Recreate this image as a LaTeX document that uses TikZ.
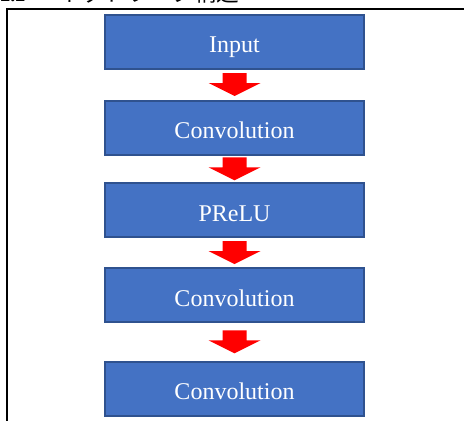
\documentclass[tikz,border=0pt]{standalone}
\usepackage{fontspec}
\setmainfont{Liberation Serif}
\newfontfamily\cjk{Noto Sans CJK JP}
\usetikzlibrary{calc}
\definecolor{boxblue}{RGB}{68,114,196}
\definecolor{boxedge}{RGB}{47,82,143}
\tikzset{
  layerbox/.style={draw=boxedge, line width=1.5, fill=boxblue, text=white,
    minimum width=194.25pt, minimum height=40.5pt, inner sep=0pt,
    text height=16.5pt, text depth=0pt,
    font=\fontsize{18}{20}\selectfont},
  flowarrow/.style={fill=red, draw=none}
}
\begin{document}
\begin{tikzpicture}[x=0.75pt,y=0.75pt,yscale=-1,xscale=1]
        \useasboundingbox (0,0) rectangle (464,421);

        % Heading (cut off at the top)
        \begin{scope}
        \clip (0,0) rectangle (464,4);
        \node (secnum) at (0,1.5) [anchor=base west, inner sep=0pt, font=\fontsize{15}{18}\selectfont\bfseries] {2.2};
        \node (sectitle) at (58,1.5) [anchor=base west, inner sep=0pt, font=\fontsize{17}{20}\selectfont\cjk] {ネットワーク構造};
        \end{scope}

        % Frame
        \draw [line width=1.9]  (7,430) -- (7,9) -- (470,9) ;

        % Layers
        \node (inp) at (234.5,41.5) [layerbox] {Input};
        \node (conva) at (234.5,127.5) [layerbox] {Convolution};
        \node (prelu) at (234.5,210) [layerbox] {PReLU};
        \node (convb) at (234.5,295) [layerbox] {Convolution};
        \node (convc) at (234.5,388.5) [layerbox] {Convolution};

        % Block arrows
        \foreach \a/\b in {inp/conva, conva/prelu, prelu/convb, convb/convc} {
          \path (\a.south) -- (\b.north) coordinate [pos=0.5] (mid);
          \fill [flowarrow] ($(mid)+(-12,-11.5)$) -- ($(mid)+(12,-11.5)$) -- ($(mid)+(12,-1.5)$)
            -- ($(mid)+(26,-1.5)$) -- ($(mid)+(0,11.5)$) -- ($(mid)+(-26,-1.5)$)
            -- ($(mid)+(-12,-1.5)$) -- cycle ;
        }

\end{tikzpicture}
\end{document}
